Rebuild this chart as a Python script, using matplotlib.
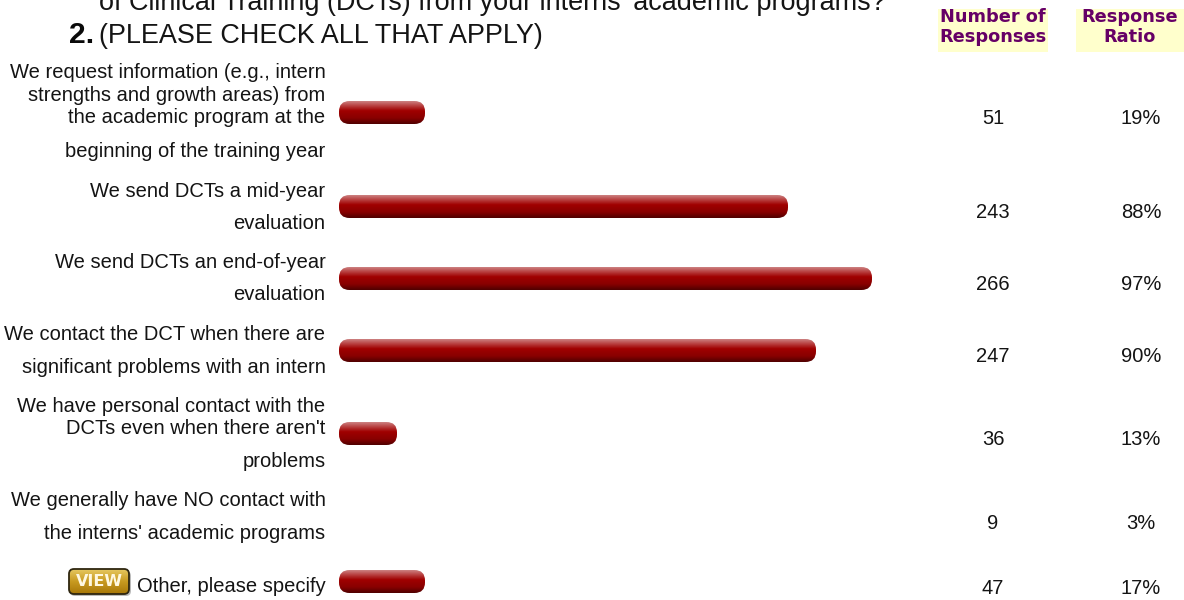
import numpy as np
import matplotlib
matplotlib.use("Agg")
import matplotlib.pyplot as plt
from matplotlib.colors import LinearSegmentedColormap
from matplotlib.patches import FancyBboxPatch, Rectangle

plt.rcParams['font.family'] = ['Liberation Sans', 'DejaVu Sans']

question_lines = ["of Clinical Training (DCTs) from your interns' academic programs?", "(PLEASE CHECK ALL THAT APPLY)"]
question_number = "2."
option_labels = [
    ["We request information (e.g., intern", "strengths and growth areas) from", "the academic program at the", "beginning of the training year"],
    ["We send DCTs a mid-year", "evaluation"],
    ["We send DCTs an end-of-year", "evaluation"],
    ["We contact the DCT when there are", "significant problems with an intern"],
    ["We have personal contact with the", "DCTs even when there aren't", "problems"],
    ["We generally have NO contact with", "the interns' academic programs"],
    ["Other, please specify"],
]
label_line_y = [
    [78, 101, 123, 157],
    [197, 229],
    [268, 300],
    [340, 373],
    [412, 434, 467],
    [506, 539],
    [592],
]
responses = [51, 243, 266, 247, 36, 9, 47]
ratios = ["19%", "88%", "97%", "90%", "13%", "3%", "17%"]
bar_lengths = [86, 449, 533, 477, 58, 0, 86]
bar_centers = [112.5, 206.5, 278.5, 350.5, 433.5, None, 581.5]
value_y = [118.5, 212.5, 284.5, 356.5, 439.5, 523.5, 588.5]

fig = plt.figure(figsize=(11.84, 6.0), dpi=100)
ax = fig.add_axes([0, 0, 1, 1])
ax.set_xlim(0, 1184)
ax.set_ylim(600, 0)
ax.axis('off')

PX = 0.72
FS = 20.2 * PX
INK = '#141414'
cmap = LinearSegmentedColormap.from_list("bar", [(0, "#cc8080"), (0.2, "#b84040"), (0.42, "#a00000"), (0.75, "#880000"), (1, "#500000")])
grad = np.linspace(0, 1, 64).reshape(-1, 1)
X0 = 339
H = 23
for length, cy in zip(bar_lengths, bar_centers):
    if not length or cy is None:
        continue
    top = cy - H / 2
    im = ax.imshow(grad, extent=(X0, X0 + length, cy + H / 2, top), cmap=cmap, aspect='auto', zorder=2)
    clip = FancyBboxPatch((X0, top), length, H, boxstyle="round,pad=0,rounding_size=10.5",
                          facecolor='none', edgecolor='none', transform=ax.transData)
    ax.add_patch(clip)
    im.set_clip_path(clip)

for lines, ys in zip(option_labels, label_line_y):
    for t, y in zip(lines, ys):
        ax.text(325.5, y, t, ha='right', va='baseline', fontsize=FS, color=INK)

for n, r, y in zip(responses, ratios, value_y):
    ax.text(993, y, str(n), ha='center', va='center', fontsize=FS, color=INK)
    ax.text(1141, y, r, ha='center', va='center', fontsize=FS, color=INK)

ax.text(99, 10, question_lines[0], ha='left', va='baseline', fontsize=27 * PX, color=INK)
ax.text(99, 43, question_lines[1], ha='left', va='baseline', fontsize=27 * PX, color=INK)
ax.text(69, 43, question_number, ha='left', va='baseline', fontsize=30 * PX, fontweight='bold', color='#0a0a0a')

# column headers
for x0, w, t in [(938, 110, "Number of\nResponses"), (1076, 108, "Response\nRatio")]:
    ax.add_patch(Rectangle((x0, 9), w, 43, facecolor='#ffffcc', edgecolor='none', zorder=1))
    ax.text(x0 + w / 2, 27, t, ha='center', va='center', fontsize=17.8 * PX, fontweight='bold',
            family='DejaVu Sans', color='#660066', linespacing=1.08, zorder=3)

# VIEW button
ax.add_patch(FancyBboxPatch((70, 571), 61, 25, boxstyle="round,pad=0,rounding_size=5", facecolor='#bbbbbb',
                            edgecolor='none', zorder=2))
btn_cmap = LinearSegmentedColormap.from_list("btn", ["#e6c860", "#c89a20", "#a87808"])
btn = ax.imshow(grad, extent=(69, 129, 594, 569), cmap=btn_cmap, aspect='auto', zorder=3)
btn_box = FancyBboxPatch((69, 569), 60, 25, boxstyle="round,pad=0,rounding_size=5", facecolor='none',
                         edgecolor='#2e2610', linewidth=1.3, zorder=4)
ax.add_patch(btn_box)
btn.set_clip_path(btn_box)
ax.text(99.5, 581.5, "VIEW", ha='center', va='center', fontsize=16 * PX, fontweight='bold',
        family='DejaVu Sans', color='#fff8e0', zorder=5)

ax.set_xlim(0, 1184)
ax.set_ylim(600, 0)
fig.savefig("out.png", dpi=100)
